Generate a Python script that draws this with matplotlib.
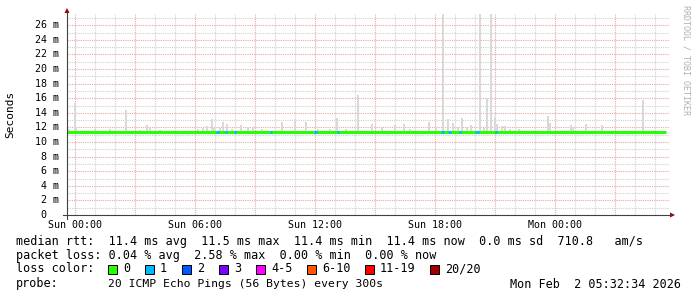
import numpy as np
import matplotlib
matplotlib.use("Agg")
import matplotlib.pyplot as plt
from matplotlib.patches import Polygon, Rectangle
from matplotlib.lines import Line2D

# smokeping data, hours from Sun 00:00
spike_hours = [-0.30, 0.00, 0.05, 1.00, 1.75, 2.55, 3.25, 3.60, 3.75, 4.25,
               6.15, 6.40, 6.60, 6.85, 6.95, 7.25, 7.40, 7.60, 7.85, 8.30,
               8.65, 8.90, 9.35, 10.35, 11.00, 11.55, 12.15, 12.75, 13.10, 13.55,
               14.15, 14.85, 15.35, 16.00, 16.45, 16.75, 17.70, 18.05, 18.40, 18.65,
               18.90, 19.15, 19.35, 19.60, 19.80, 20.25, 20.45, 20.60, 20.80, 21.00,
               21.10, 21.35, 21.50, 21.75, 22.20, 23.65, 23.75, 24.80, 24.90, 25.55,
               26.35, 28.40]
spike_top = [11.8, 15.4, 12.0, 11.8, 11.8, 14.4, 11.7, 12.4, 11.9, 11.7,
             11.8, 11.9, 12.2, 13.1, 12.1, 11.9, 12.8, 12.5, 11.8, 12.4,
             12.0, 12.0, 11.8, 12.8, 13.2, 12.7, 11.8, 11.8, 13.3, 11.8,
             16.4, 12.5, 12.0, 12.3, 12.5, 11.8, 12.8, 11.9, 27.5, 13.2,
             12.6, 12.0, 13.3, 12.0, 12.3, 27.5, 11.9, 16.1, 27.5, 13.5,
             12.5, 12.2, 12.2, 11.8, 11.8, 13.6, 12.6, 12.4, 12.1, 12.5,
             12.3, 15.8]
median_rtt = 11.4
median_start, median_end = -0.4, 29.55
loss_hours = [7.12, 7.55, 8.00, 9.80, 12.02, 13.15, 18.37, 18.72, 19.25, 20.05, 20.15, 21.05]
loss_count = [1, 1, 1, 1, 1, 1, 1, 1, 1, 1, 1, 1]

loss_labels = ["0", "1", "2", "3", "4-5", "6-10", "11-19", "20/20"]
loss_colors = ["#26ff00", "#00b8ff", "#0059ff", "#7e00ff", "#ff00ff", "#ff5500", "#ff0000", "#a10000"]

xtick_hours = [0, 6, 12, 18, 24]
xtick_labels = ["Sun 00:00", "Sun 06:00", "Sun 12:00", "Sun 18:00", "Mon 00:00"]
ytick_vals = list(range(0, 27, 2))

legend_rows = [
    "median rtt:  11.4 ms avg  11.5 ms max  11.4 ms min  11.4 ms now  0.0 ms sd  710.8   am/s",
    "packet loss: 0.04 % avg  2.58 % max  0.00 % min  0.00 % now",
]
probe_text = "probe:       20 ICMP Echo Pings (56 Bytes) every 300s"
date_text = "Mon Feb  2 05:32:34 2026"

W, H = 697, 297
MONO = "DejaVu Sans Mono"


def px(x, y):
    return x / W, 1 - y / H


fig = plt.figure(figsize=(W / 100, H / 100), dpi=100)
fig.patch.set_facecolor("white")
left, right, top, bottom = 67, 669, 14, 215
ax = fig.add_axes([left / W, 1 - bottom / H, (right - left) / W, (bottom - top) / H])
ax.set_xlim(-0.4, 29.7)
ax.set_ylim(0, 27.55)
for s in ax.spines.values():
    s.set_visible(False)
ax.set_xticks([])
ax.set_yticks([])

# grid
dot = (0, (1, 1))
for h in np.arange(0, 30, 1):
    c = "#e6a8a8" if h % 3 == 0 else "#d0d0d0"
    ax.axvline(h, color=c, lw=0.8, ls=dot, zorder=1)
for v in range(1, 28):
    c = "#e6a8a8" if v % 2 == 0 else "#d0d0d0"
    ax.axhline(v, color=c, lw=0.8, ls=dot, zorder=1)

# smoke
step = 1 / 12
ax.bar(spike_hours, np.array(spike_top) - 11.2, bottom=11.2, width=step,
       color="#d9d9d9", align="center", zorder=2, linewidth=0)

# median line coloured by loss
ax.hlines(median_rtt, median_start, median_end, color=loss_colors[0], lw=2.2, zorder=3)
for h, n in zip(loss_hours, loss_count):
    ax.hlines(median_rtt, h - 0.06, h + 0.06, color=loss_colors[n], lw=2.2, zorder=4)

# axes lines and arrows
axcol = "#404040"
fig.add_artist(Line2D(*zip(px(67, 219), px(67, 12)), color=axcol, lw=0.8))
fig.add_artist(Line2D(*zip(px(63, 215), px(671, 215)), color=axcol, lw=0.8))
fig.add_artist(Polygon([px(64.5, 13), px(69.5, 13), px(67, 8)], closed=True,
                       color="#a00000", lw=0))
fig.add_artist(Polygon([px(670, 212.5), px(670, 217.5), px(675, 215)], closed=True,
                       color="#a00000", lw=0))

# tick labels
for v in ytick_vals:
    lab = "%d m" % v if v else "0  "
    fig.text(*px(59, bottom - v * (bottom - top) / 27.55), lab, ha="right", va="center",
             family=MONO, fontsize=7.2)
for h, lab in zip(xtick_hours, xtick_labels):
    fig.text(*px(left + (h + 0.4) * 20, 225), lab, ha="center", va="center",
             family=MONO, fontsize=7.2)

fig.text(*px(10, 114), "Seconds", rotation=90, ha="center", va="center",
         family=MONO, fontsize=8)
fig.text(*px(686, 5), "RRDTOOL / TOBI OETIKER", rotation=270, ha="center", va="top",
         family=MONO, fontsize=6, color="#b0b0b0")

# legend
fs = 8.5
cw = 7.0
fig.text(*px(16, 241), legend_rows[0], ha="left", va="center", family=MONO, fontsize=fs)
fig.text(*px(16, 256), legend_rows[1], ha="left", va="center", family=MONO, fontsize=fs)
fig.text(*px(16, 269), "loss color:", ha="left", va="center", family=MONO, fontsize=fs)
x = 108
for lab, col in zip(loss_labels, loss_colors):
    x0, y0 = px(x, 273.5)
    fig.add_artist(Rectangle((x0, y0), 9 / W, 9 / H, facecolor=col, edgecolor="black",
                             lw=0.7, transform=fig.transFigure))
    fig.text(*px(x + 15, 269), lab, ha="left", va="center", family=MONO, fontsize=fs)
    x += 15 + len(lab) * cw + 15
fig.text(*px(16, 284), "probe:", ha="left", va="center", family=MONO, fontsize=fs)
fig.text(*px(108, 284), probe_text[13:], ha="left", va="center", family=MONO, fontsize=8.2)
fig.text(*px(681, 284), date_text, ha="right", va="center", family=MONO, fontsize=fs)

fig.savefig("out.png", dpi=100)
